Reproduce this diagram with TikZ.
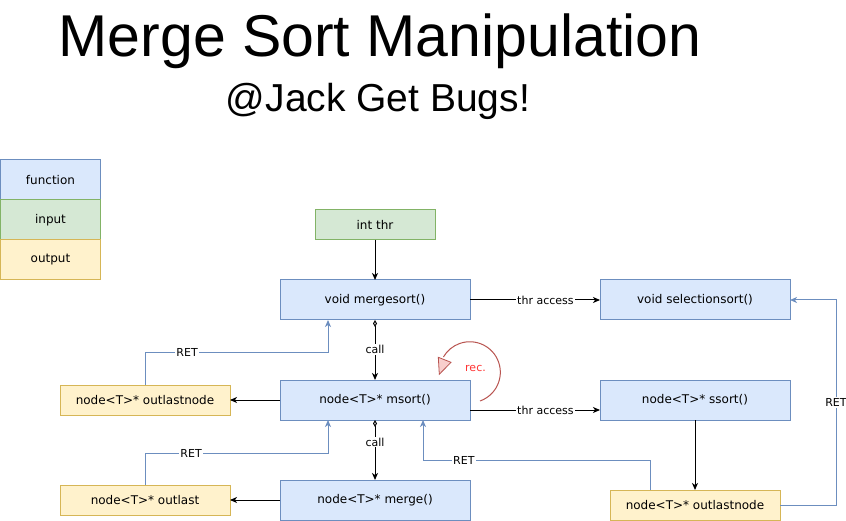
\documentclass[tikz,border=0pt]{standalone}
\usepackage{fontspec}
\newfontfamily\dv{DejaVu Sans}
\newfontfamily\lib{Liberation Sans}
\usetikzlibrary{arrows.meta}
\definecolor{fnfill}{HTML}{DAE8FC}
\definecolor{fnline}{HTML}{6C8EBF}
\definecolor{infill}{HTML}{D5E8D4}
\definecolor{inline}{HTML}{82B366}
\definecolor{outfill}{HTML}{FFF2CC}
\definecolor{outline}{HTML}{D6B656}
\definecolor{recline}{HTML}{B85450}
\definecolor{recfill}{HTML}{F8CECC}
\definecolor{rectext}{HTML}{FF3333}
\begin{document}
\begin{tikzpicture}[x=1pt,y=1pt,
  box/.style={minimum width=190pt,minimum height=40pt,inner sep=0pt,outer sep=0pt,line width=1pt,font=\dv\fontsize{12}{14}\selectfont},
  fn/.style={box,draw=fnline,fill=fnfill},
  inp/.style={box,draw=inline,fill=infill},
  outp/.style={box,draw=outline,fill=outfill,minimum width=170pt,minimum height=30pt},
  arr/.style={line width=1pt,-{Stealth[length=7pt,width=6pt,inset=2pt]}},
  callarr/.style={line width=1pt,{Diamond[open,length=7pt,width=4pt]}-{Stealth[length=7pt,width=6pt,inset=2pt]}},
  ret/.style={line width=1pt,draw=fnline,-{Stealth[length=7pt,width=6pt,inset=2pt,fill=fnline]}},
  lbl/.style={fill=white,inner sep=1pt,font=\dv\fontsize{11}{13}\selectfont},
]
\useasboundingbox (0,0) rectangle (846,-521);

% title
\node[font=\lib\fontsize{59}{60}\selectfont,anchor=base] (title) at (380,-57) {Merge Sort Manipulation};
\node[font=\lib\fontsize{39}{40}\selectfont,anchor=base] (sub) at (378,-112) {@Jack Get Bugs!};

% legend
\node[fn,minimum width=100pt] (lgf) at (50.5,-180) {function};
\node[inp,minimum width=100pt] (lgi) at (50.5,-220) {input};
\node[outp,minimum width=100pt,minimum height=40pt] (lgo) at (50.5,-260) {output};

% nodes
\node[inp,minimum width=120pt,minimum height=30pt] (thr) at (375,-225) {int thr};
\node[fn] (ms) at (375,-300) {void mergesort()};
\node[fn] (sel) at (695,-300) {void selectionsort()};
\node[fn] (msort) at (375,-400) {node<T>* msort()};
\node[fn] (ssort) at (695,-400) {node<T>* ssort()};
\node[fn] (merge) at (375,-500) {node<T>* merge()};
\node[outp] (outL) at (145,-400) {node<T>* outlastnode};
\node[outp] (outl) at (145,-500) {node<T>* outlast};
\node[outp] (outR) at (695,-505) {node<T>* outlastnode};

% connectors
\draw[arr] (thr) -- (ms);
\draw[callarr] (ms) -- node[lbl,pos=0.49]{call} (msort);
\draw[callarr] (msort) -- node[lbl,pos=0.37]{call} (merge);
\draw[arr] (ms) -- node[lbl,pos=0.58]{thr access} (sel);
\draw[arr] ([yshift=-10pt]msort.east) -- node[lbl,pos=0.58]{thr access} ([yshift=-10pt]ssort.west);
\draw[arr] (ssort) -- (outR);
\draw[arr] (msort) -- (outL);
\draw[arr] (merge) -- (outl);

% returns
\draw[ret] (outL.north) |- node[lbl,pos=0.615]{RET} ([xshift=-47pt,yshift=-32pt]ms.south) -- ([xshift=-47pt]ms.south);
\draw[ret] (outl.north) |- node[lbl,pos=0.626]{RET} ([xshift=-47pt,yshift=-33pt]msort.south) -- ([xshift=-47pt]msort.south);
\draw[ret] ([xshift=-45pt]outR.north) |- node[lbl,pos=0.91]{RET} ([xshift=48pt,yshift=-40pt]msort.south) -- ([xshift=48pt]msort.south);
\draw[ret] (outR.east) -- ++(56,0) coordinate (rc1) -- node[lbl]{RET} (rc1 |- sel.east) -- (sel.east);

% recursion
\coordinate (recstart) at (480,-401);
\draw[recline,line width=1pt] (recstart) arc[start angle=-70.5,end angle=150,radius=30.5];
\filldraw[fill=recfill,draw=recline,line width=0.8pt] (438.3,-357.3) -- (451,-362.3) -- (439.3,-374.3) -- cycle;
\node[text=rectext,font=\dv\fontsize{11}{13}\selectfont] (rec) at (475.5,-368) {rec.};
\end{tikzpicture}
\end{document}
